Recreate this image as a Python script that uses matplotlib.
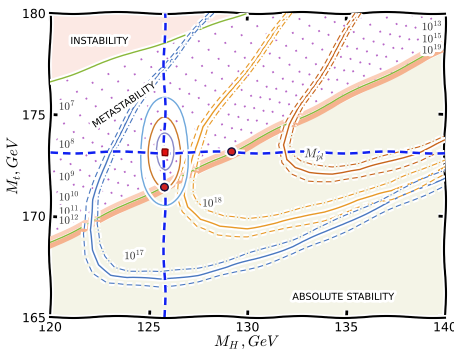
import matplotlib
matplotlib.use("Agg")
import matplotlib.pyplot as plt
from matplotlib.patches import Ellipse

# central values (Higgs mass, top mass)
mh_central = 125.8
mt_central = 173.15
mt_stab_point = 171.4
mh_pl_point = 129.2

# instability boundary
instab_x = [120.0, 122.0, 123.5, 125.6, 127.6, 129.9]
instab_y = [176.6, 177.3, 177.8, 178.5, 179.15, 180.0]

# absolute stability boundary (band)
stab_x = [120.0, 139.8]
stab_y = [168.68, 178.28]
band_upper_y = [168.86, 178.46]
band_lower_y = [168.5, 178.1]
beige_x = [120.0, 140.0]
beige_top = [168.42, 178.12]

# dotted lines of instability scale (left edge / right edge values)
meta_left_y = [176.3, 175.5, 174.9, 174.25, 173.6, 173.05, 172.55, 172.1, 171.55, 171.0,
               170.65, 170.3, 169.9, 169.55, 169.2, 168.9]
meta_right_y = [186.0, 185.2, 184.6, 183.95, 183.3, 182.75, 182.25, 181.8, 181.25, 180.7,
                180.35, 180.0, 179.6, 179.35, 178.85, 178.45]
left_labels = ["$10^{7}$", "$10^{8}$", "$10^{9}$", "$10^{10}$", "$10^{11}$", "$10^{12}$"]
left_label_y = [175.47, 173.6, 172.0, 171.0, 170.3, 169.85]
right_labels = ["$10^{13}$", "$10^{15}$", "$10^{19}$"]
right_label_y = [179.4, 178.8, 178.25]

# 1,2,3 sigma ellipses: (half width, half height)
ell_w = [0.43, 0.78, 1.24]
ell_h = [0.9, 1.77, 2.64]
ell_colors = ["#8a8ac8", "#cc7a2a", "#6fa8dc"]

# blue contour (10^17)
blue_x = [128.2, 126.9, 125.4, 124.2, 123.0, 122.2, 122.0, 122.15, 122.5, 123.1, 123.9, 125.6, 127.5, 129.0, 130.5, 132.3, 134.0, 135.6, 137.5, 140.0]
blue_y = [180.0, 178.6, 176.9, 175.2, 173.1, 170.8, 169.3, 168.3, 167.6, 167.1, 166.95, 166.85, 167.1, 167.45, 167.9, 168.5, 169.2, 169.95, 170.8, 171.9]
blue_dash_x = [128.05, 126.7, 125.1, 123.9, 122.7, 121.85, 121.65, 121.8, 122.2, 122.9, 123.9, 125.6, 127.5, 129.0, 130.5, 132.3, 134.0, 135.6, 137.5, 140.0]
blue_dash_y = [180.0, 178.5, 176.8, 175.0, 172.9, 170.6, 169.1, 168.0, 167.2, 166.7, 166.55, 166.5, 166.75, 167.1, 167.5, 168.1, 168.8, 169.55, 170.4, 171.5]
blue_dd_x = [128.3, 127.1, 125.7, 124.5, 123.3, 122.5, 122.35, 122.5, 122.8, 123.3, 124.0, 125.6, 127.5, 129.0, 130.5, 132.3, 134.0, 135.6, 137.5, 140.0]
blue_dd_y = [180.0, 178.7, 177.0, 175.3, 173.3, 171.0, 169.6, 168.6, 168.0, 167.5, 167.3, 167.2, 167.45, 167.8, 168.25, 168.85, 169.55, 170.3, 171.15, 172.3]

# light orange contour (10^18)
orange_x = [132.1, 131.1, 130.1, 128.8, 127.75, 127.2, 126.9, 126.85, 127.0, 127.6, 128.6, 130.0, 131.5, 132.7, 133.9, 135.6, 137.3, 140.0]
orange_y = [180.0, 178.6, 177.35, 175.7, 174.4, 173.0, 171.8, 171.0, 170.45, 169.8, 169.45, 169.4, 169.65, 169.9, 170.2, 170.8, 171.2, 172.4]
orange_dash_x = [131.95, 130.9, 129.9, 128.55, 127.5, 126.9, 126.55, 126.5, 126.7, 127.4, 128.5, 130.0, 131.5, 132.7, 133.9, 135.6, 137.3, 140.0]
orange_dash_y = [180.0, 178.6, 177.35, 175.7, 174.4, 173.0, 171.8, 170.9, 170.2, 169.45, 169.05, 169.0, 169.25, 169.5, 169.8, 170.4, 170.8, 172.0]
orange_dd_x = [132.25, 131.3, 130.3, 129.05, 128.0, 127.5, 127.3, 127.3, 127.5, 128.0, 128.8, 130.0, 131.5, 132.7, 133.9, 135.6, 137.3, 140.0]
orange_dd_y = [180.0, 178.6, 177.35, 175.7, 174.4, 173.0, 171.8, 171.1, 170.7, 170.25, 169.95, 169.85, 170.1, 170.35, 170.6, 171.2, 171.65, 172.8]

# dark orange contour
dark_x = [135.6, 134.7, 133.65, 132.65, 132.15, 131.8, 131.95, 132.4, 133.15, 134.3, 135.7, 137.4, 138.7, 140.0]
dark_y = [180.0, 178.5, 176.85, 175.35, 174.5, 173.5, 172.75, 172.35, 172.15, 172.1, 172.25, 172.75, 173.15, 173.7]
dark_dash_x = [135.45, 134.5, 133.45, 132.45, 131.9, 131.55, 131.7, 132.2, 133.1, 134.3, 135.7, 137.4, 138.7, 140.0]
dark_dash_y = [180.0, 178.5, 176.85, 175.35, 174.5, 173.5, 172.6, 172.05, 171.75, 171.7, 171.85, 172.3, 172.7, 173.2]
dark_dd_x = [135.75, 134.9, 133.85, 132.85, 132.4, 132.1, 132.3, 132.7, 133.3, 134.3, 135.7, 137.4, 138.7, 140.0]
dark_dd_y = [180.0, 178.5, 176.85, 175.35, 174.5, 173.5, 172.95, 172.65, 172.5, 172.45, 172.6, 173.05, 173.45, 173.95]

xticks = [120, 125, 130, 135, 140]
yticks = [165, 170, 175, 180]

plt.xkcd()
plt.rcParams['font.family'] = ['DejaVu Sans']
plt.rcParams['mathtext.fontset'] = 'cm'

fig = plt.figure(figsize=(4.54, 3.52), dpi=100)
ax = fig.add_axes([0.110, 0.099, 0.870, 0.864])

# regions
ax.fill_between(beige_x, 165, beige_top, color="#f4f4e7", lw=0, path_effects=[], zorder=1)
ax.fill_between(instab_x, instab_y, 180, color="#fce9e4", lw=0, path_effects=[], zorder=1.6)
ax.plot(instab_x, instab_y, color="#8ab83a", lw=1, zorder=4)

# instability scale dotted lines, phase shifted so the dots don't line up
for i, (yl, yr) in enumerate(zip(meta_left_y, meta_right_y)):
    ax.plot([120, 140], [yl, yr], color="#b868c8", lw=1.3, ls=((i * 4) % 10, (1, 9)),
            path_effects=[], zorder=1.5)

# stability band
ax.plot(stab_x, band_upper_y, color="#fbcfb9", lw=3, path_effects=[], zorder=3)
ax.plot(stab_x, band_lower_y, color="#f5b28e", lw=3.5, path_effects=[], zorder=3)
ax.plot(stab_x, stab_y, color="#8ab83a", lw=1, path_effects=[], zorder=3)

# contours
for xs, ys, c in [(blue_x, blue_y, "#4a78c0"), (orange_x, orange_y, "#e89a28"),
                  (dark_x, dark_y, "#c8661c")]:
    ax.plot(xs, ys, color=c, lw=1, zorder=5)
for xs, ys, c in [(blue_dash_x, blue_dash_y, "#4a78c0"), (orange_dash_x, orange_dash_y, "#e89a28"),
                  (dark_dash_x, dark_dash_y, "#c8661c")]:
    ax.plot(xs, ys, color=c, lw=0.8, ls=(0, (5, 3)), zorder=5)
for xs, ys, c in [(blue_dd_x, blue_dd_y, "#4a78c0"), (orange_dd_x, orange_dd_y, "#e89a28"),
                  (dark_dd_x, dark_dd_y, "#c8661c")]:
    ax.plot(xs, ys, color=c, lw=0.8, ls=(0, (5, 2, 1, 2)), zorder=5)

# error ellipses
for w, h, c in zip(ell_w, ell_h, ell_colors):
    ax.add_patch(Ellipse((mh_central, mt_central), 2 * w, 2 * h, fill=False,
                         edgecolor=c, lw=1, zorder=6))

# central value cross
ax.axvline(mh_central, color="#1020f0", lw=1.8, ls=(0, (3, 2)), zorder=7)
ax.axhline(mt_central, color="#1020f0", lw=1.8, ls=(0, (3, 2)), zorder=7)
ax.plot([mh_central], [mt_central], marker="s", ms=4, color="#e01010", mec="#800000", zorder=8)
ax.plot([mh_central, mh_pl_point], [mt_stab_point, mt_central], ls="none", marker="o", ms=5,
        mfc="#d02020", mec="#101040", mew=1, zorder=8)

# texts
ax.text(122.5, 178.62, "INSTABILITY", fontsize=7, ha="center", va="center", zorder=9)
ax.text(123.75, 175.47, "METASTABILITY", fontsize=7, ha="center", va="center",
        rotation=34, zorder=9)
ax.text(134.85, 166.0, "ABSOLUTE STABILITY", fontsize=7, ha="center", va="center", zorder=9)
for lab, y in zip(left_labels, left_label_y):
    ax.text(120.45, y, lab, fontsize=8, color="#333333", ha="left", va="center", zorder=9)
for lab, y in zip(right_labels, right_label_y):
    ax.text(139.9, y, lab, fontsize=8, color="#333333", ha="right", va="center", zorder=9)
ax.text(124.3, 168.1, "$10^{17}$", fontsize=8, color="#333333", ha="center", va="center", zorder=9)
ax.text(128.25, 170.7, "$10^{18}$", fontsize=8, color="#333333", ha="center", va="center", zorder=9)
ax.text(133.4, 173.0, "$M_{pl}$", fontsize=9, color="#333333", ha="center", va="center", zorder=9)

ax.set_xlim(120, 140)
ax.set_ylim(165, 180)
ax.set_xticks(xticks)
ax.set_yticks(yticks)
ax.tick_params(direction="in", length=5, width=2, top=True, right=True, labelsize=9, pad=3)
ax.set_xlabel(r"$M_H\,,GeV$", fontsize=11)
ax.set_ylabel(r"$M_t,GeV$", fontsize=11)
ax.xaxis.set_label_coords(0.5, -0.052)
ax.yaxis.set_label_coords(-0.07, 0.5)

fig.savefig("out.png", dpi=100)
